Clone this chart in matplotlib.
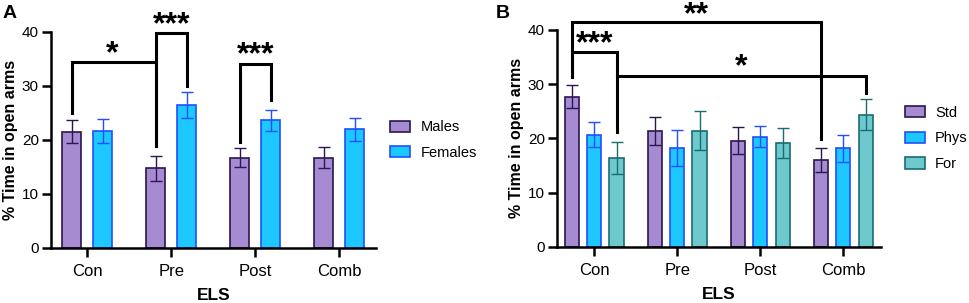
import numpy as np
import matplotlib.pyplot as plt

plt.rcParams['font.family'] = ['Liberation Sans', 'DejaVu Sans']

groups = ['Con', 'Pre', 'Post', 'Comb']

# panel A
males = [21.5, 14.7, 16.7, 16.7]
males_err = [2.2, 2.3, 1.7, 1.9]
females = [21.6, 26.5, 23.6, 21.9]
females_err = [2.2, 2.4, 1.9, 2.2]

# panel B
std = [27.7, 21.4, 19.6, 16.0]
std_err = [2.1, 2.6, 2.5, 2.3]
phys = [20.7, 18.2, 20.3, 18.2]
phys_err = [2.3, 3.3, 1.9, 2.5]
forc = [16.4, 21.4, 19.2, 24.4]
forc_err = [3.0, 3.6, 2.8, 2.8]

purple, purple_edge = '#a68bd2', '#2a1650'
cyan, cyan_edge = '#1cc8ff', '#1f4fff'
teal, teal_edge = '#6ec9cc', '#1a6b73'

fig = plt.figure(figsize=(9.69, 3.03), dpi=100)
axA = fig.add_axes([0.0523, 0.1825, 0.3357, 0.7129])
axB = fig.add_axes([0.5745, 0.1858, 0.3347, 0.7152])

x = np.arange(len(groups))


def style_axis(ax, xlim):
    ax.set_xlim(*xlim)
    ax.set_ylim(0, 40)
    ax.set_yticks([0, 10, 20, 30, 40])
    ax.set_xticks(x)
    ax.set_xticklabels(groups, fontsize=12)
    ax.tick_params(axis='y', labelsize=11, width=1.8, length=6.5, pad=2)
    ax.tick_params(axis='x', width=1.8, length=6.5, pad=5)
    for s in ['top', 'right']:
        ax.spines[s].set_visible(False)
    for s in ['left', 'bottom']:
        ax.spines[s].set_linewidth(1.8)
    ax.set_ylabel('% Time in open arms', fontsize=11.5, fontweight='bold', labelpad=3)
    ax.set_xlabel('ELS', fontsize=12.5, fontweight='bold', labelpad=6.5)


def bars(ax, pos, vals, errs, fc, ec, w, label):
    b = ax.bar(pos, vals, w, color=fc, edgecolor=ec, linewidth=1.2, label=label, zorder=2)
    ax.errorbar(pos, vals, yerr=errs, fmt='none', ecolor=ec, elinewidth=1.0,
                capsize=4.3, capthick=1.0, zorder=3)
    return b


def bracket(ax, x1, y1, x2, y2, top, text, tx, ty):
    ax.plot([x1, x1, x2, x2], [y1, top, top, y2], color='black', lw=2.2,
            clip_on=False, solid_joinstyle='miter', zorder=4)
    ax.text(tx, ty, text, ha='center', va='center', fontsize=23, fontweight='bold',
            clip_on=False)


legend_kw = dict(loc='center left', bbox_transform=fig.transFigure, frameon=False,
                 fontsize=10.5, handlelength=1.37, handleheight=0.8,
                 labelspacing=0.8, handletextpad=0.73)

# panel A
wA, offA = 0.23, 0.185
bars(axA, x - offA, males, males_err, purple, purple_edge, wA, 'Males')
bars(axA, x + offA, females, females_err, cyan, cyan_edge, wA, 'Females')
style_axis(axA, (-0.436, 3.437))
bracket(axA, 0 - offA, 24.9, 1 - offA, 18.9, 34.4, '*', 0.3, 35.8)
bracket(axA, 1 - offA, 18.9, 1 + offA, 29.9, 39.7, '***', 1.0, 41.2)
bracket(axA, 2 - offA, 19.6, 2 + offA, 27.3, 34.0, '***', 2.0, 35.6)
axA.legend(bbox_to_anchor=(0.389, 0.538), **legend_kw)

# panel B
wB, offB = 0.17, 0.268
bars(axB, x - offB, std, std_err, purple, purple_edge, wB, 'Std')
bars(axB, x, phys, phys_err, cyan, cyan_edge, wB, 'Phys')
bars(axB, x + offB, forc, forc_err, teal, teal_edge, wB, 'For')
style_axis(axB, (-0.453, 3.454))
bracket(axB, 0 - offB, 31.3, 3 - offB, 19.8, 41.4, '**', 1.23, 42.8)
bracket(axB, 0 - offB, 31.3, 0 + offB, 21.2, 35.9, '***', 0.0, 37.3)
bracket(axB, 0 + offB, 31.5, 3 + offB, 28.4, 31.5, '*', 1.77, 33.1)
axB.legend(bbox_to_anchor=(0.920, 0.543), **legend_kw)

fig.text(0.003, 0.955, 'A', fontsize=14, fontweight='bold', va='center')
fig.text(0.512, 0.955, 'B', fontsize=14, fontweight='bold', va='center')

fig.savefig('out.png', dpi=100)
